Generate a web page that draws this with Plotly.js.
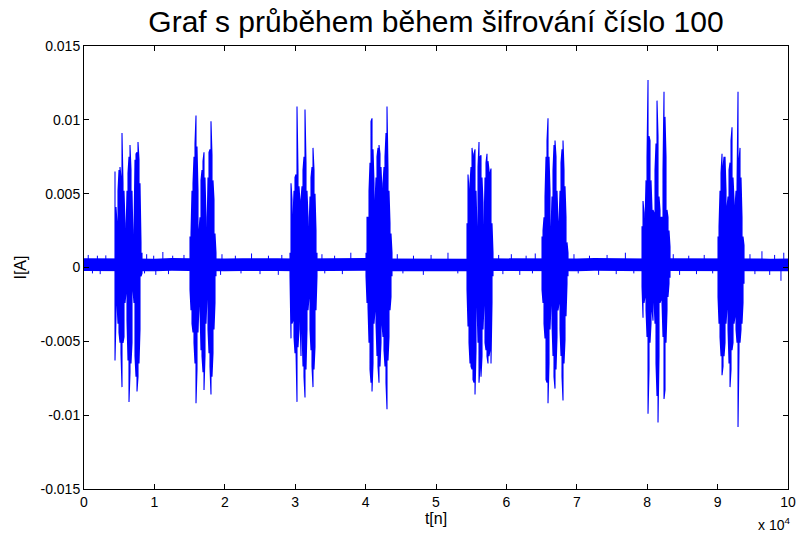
<!DOCTYPE html>
<html>
<head>
<meta charset="utf-8">
<script src="https://cdn.plot.ly/plotly-3.0.1.min.js"></script>
<style>
  html, body { margin: 0; padding: 0; background: #ffffff; }
  #chart { width: 798px; height: 538px; }
</style>
</head>
<body>
<div id="chart"></div>
<script>
// Current trace of one encryption run (100 000 samples), stored as
// min/max envelopes per display column for each active burst.
const sampleCount = 100000;
const binWidth = 142; // samples per envelope column

const burstStart = [4404, 15057, 29262, 40058, 54405, 65059, 79264, 90060];

const burst1Max = [0.0065, 0.0041, 0.0030, 0.0052, 0.0066, 0.0068, 0.0061, 0.0091, 0.0057, 0.0052, 0.0030, 0.0023, 0.0052, 0.0064, 0.0075, 0.0083, 0.0066, 0.0052, 0.0019, 0.0025, 0.0073, 0.0077, 0.0078, 0.0085, 0.0073, 0.0057, 0.0017, 0.0010];
const burst1Min = [-0.0063, -0.0033, -0.0024, -0.0038, -0.0044, -0.0051, -0.0058, -0.0081, -0.0051, -0.0047, -0.0024, -0.0017, -0.0036, -0.0063, -0.0091, -0.0071, -0.0065, -0.0051, -0.0015, -0.0024, -0.0060, -0.0074, -0.0084, -0.0074, -0.0065, -0.0042, -0.0006, -0.0004];

const burst2Max = [0.0021, 0.0023, 0.0052, 0.0057, 0.0075, 0.0084, 0.0103, 0.0082, 0.0052, 0.0025, 0.0034, 0.0059, 0.0066, 0.0072, 0.0078, 0.0061, 0.0034, 0.0023, 0.0061, 0.0078, 0.0080, 0.0099, 0.0076, 0.0059, 0.0046, 0.0023, 0.0010];
const burst2Min = [-0.0015, -0.0029, -0.0038, -0.0044, -0.0051, -0.0065, -0.0092, -0.0069, -0.0044, -0.0024, -0.0029, -0.0056, -0.0060, -0.0071, -0.0083, -0.0060, -0.0038, -0.0020, -0.0042, -0.0058, -0.0067, -0.0086, -0.0074, -0.0058, -0.0042, -0.0024, -0.0006];

const burst3Max = [0.0010, 0.0057, 0.0046, 0.0034, 0.0052, 0.0061, 0.0063, 0.0109, 0.0065, 0.0055, 0.0044, 0.0046, 0.0055, 0.0066, 0.0075, 0.0107, 0.0071, 0.0052, 0.0034, 0.0025, 0.0048, 0.0061, 0.0068, 0.0081, 0.0066, 0.0050, 0.0025, 0.0010];
const burst3Min = [-0.0006, -0.0048, -0.0038, -0.0036, -0.0047, -0.0058, -0.0056, -0.0091, -0.0054, -0.0042, -0.0034, -0.0060, -0.0042, -0.0067, -0.0074, -0.0088, -0.0069, -0.0042, -0.0029, -0.0020, -0.0042, -0.0056, -0.0067, -0.0081, -0.0069, -0.0054, -0.0029, -0.0006];

const burst4Max = [0.0010, 0.0034, 0.0034, 0.0052, 0.0071, 0.0099, 0.0101, 0.0080, 0.0057, 0.0044, 0.0061, 0.0075, 0.0081, 0.0083, 0.0077, 0.0068, 0.0052, 0.0057, 0.0068, 0.0075, 0.0091, 0.0109, 0.0066, 0.0052, 0.0030, 0.0023, 0.0010];
const burst4Min = [-0.0006, -0.0024, -0.0027, -0.0051, -0.0069, -0.0078, -0.0084, -0.0065, -0.0038, -0.0029, -0.0038, -0.0060, -0.0067, -0.0078, -0.0067, -0.0051, -0.0038, -0.0047, -0.0056, -0.0067, -0.0078, -0.0096, -0.0063, -0.0047, -0.0029, -0.0020, -0.0006];

const burst5Max = [0.0030, 0.0063, 0.0052, 0.0057, 0.0068, 0.0081, 0.0075, 0.0077, 0.0080, 0.0052, 0.0025, 0.0068, 0.0085, 0.0075, 0.0076, 0.0061, 0.0044, 0.0025, 0.0061, 0.0071, 0.0077, 0.0072, 0.0066, 0.0064, 0.0067, 0.0030, 0.0010];
const burst5Min = [-0.0015, -0.0040, -0.0051, -0.0065, -0.0067, -0.0069, -0.0076, -0.0078, -0.0086, -0.0056, -0.0024, -0.0051, -0.0078, -0.0067, -0.0074, -0.0060, -0.0042, -0.0024, -0.0051, -0.0056, -0.0060, -0.0065, -0.0060, -0.0056, -0.0065, -0.0024, -0.0006];

const burst6Max = [0.0021, 0.0025, 0.0034, 0.0048, 0.0075, 0.0086, 0.0101, 0.0075, 0.0052, 0.0025, 0.0048, 0.0066, 0.0083, 0.0086, 0.0075, 0.0052, 0.0030, 0.0030, 0.0052, 0.0071, 0.0080, 0.0086, 0.0066, 0.0055, 0.0034, 0.0017, 0.0010];
const burst6Min = [-0.0015, -0.0024, -0.0038, -0.0048, -0.0076, -0.0078, -0.0092, -0.0065, -0.0042, -0.0024, -0.0038, -0.0060, -0.0074, -0.0082, -0.0069, -0.0047, -0.0029, -0.0024, -0.0042, -0.0060, -0.0074, -0.0090, -0.0065, -0.0049, -0.0033, -0.0011, -0.0006];

const burst7Max = [0.0028, 0.0045, 0.0037, 0.0030, 0.0059, 0.0075, 0.0127, 0.0089, 0.0086, 0.0059, 0.0039, 0.0039, 0.0037, 0.0066, 0.0084, 0.0113, 0.0089, 0.0048, 0.0039, 0.0034, 0.0034, 0.0066, 0.0119, 0.0102, 0.0075, 0.0039, 0.0034, 0.0025, 0.0014];
const burst7Min = [-0.0013, -0.0034, -0.0024, -0.0020, -0.0029, -0.0047, -0.0099, -0.0069, -0.0051, -0.0038, -0.0029, -0.0036, -0.0022, -0.0038, -0.0065, -0.0087, -0.0105, -0.0060, -0.0024, -0.0022, -0.0024, -0.0047, -0.0089, -0.0083, -0.0051, -0.0029, -0.0020, -0.0011, -0.0007];

const burst8Max = [0.0021, 0.0028, 0.0052, 0.0064, 0.0077, 0.0068, 0.0075, 0.0075, 0.0052, 0.0041, 0.0048, 0.0066, 0.0071, 0.0086, 0.0095, 0.0061, 0.0046, 0.0041, 0.0052, 0.0055, 0.0119, 0.0073, 0.0081, 0.0061, 0.0034, 0.0021, 0.0015];
const burst8Min = [-0.0020, -0.0038, -0.0047, -0.0060, -0.0073, -0.0067, -0.0060, -0.0051, -0.0038, -0.0027, -0.0042, -0.0065, -0.0081, -0.0069, -0.0056, -0.0051, -0.0038, -0.0033, -0.0042, -0.0051, -0.0108, -0.0056, -0.0051, -0.0042, -0.0038, -0.0024, -0.0011];

// Idle noise band between bursts, one value per 2500 samples
const baseX = [0, 2500, 5000, 7500, 10000, 12500, 15000, 17500, 20000, 22500, 25000, 27500, 30000, 32500, 35000, 37500, 40000, 42500, 45000, 47500, 50000, 52500, 55000, 57500, 60000, 62500, 65000, 67500, 70000, 72500, 75000, 77500, 80000, 82500, 85000, 87500, 90000, 92500, 95000, 97500, 100000];
const baseTop = [0.00062, 0.00060, 0.00063, 0.00061, 0.00060, 0.00064, 0.00062, 0.00060, 0.00061, 0.00063, 0.00060, 0.00062, 0.00061, 0.00063, 0.00060, 0.00062, 0.00064, 0.00061, 0.00060, 0.00062, 0.00063, 0.00061, 0.00060, 0.00062, 0.00061, 0.00063, 0.00060, 0.00062, 0.00061, 0.00064, 0.00062, 0.00060, 0.00061, 0.00063, 0.00062, 0.00060, 0.00061, 0.00063, 0.00062, 0.00060, 0.00061];
const baseBottom = [-0.00024, -0.00026, -0.00023, -0.00025, -0.00026, -0.00022, -0.00024, -0.00026, -0.00025, -0.00023, -0.00026, -0.00024, -0.00025, -0.00023, -0.00026, -0.00024, -0.00022, -0.00025, -0.00026, -0.00024, -0.00023, -0.00025, -0.00026, -0.00024, -0.00025, -0.00023, -0.00026, -0.00024, -0.00025, -0.00022, -0.00024, -0.00026, -0.00025, -0.00023, -0.00024, -0.00026, -0.00025, -0.00023, -0.00024, -0.00026, -0.00025];

// Isolated noise spikes in the idle band: sample index and peak value
const spikeAt = [600, 1200, 1900, 2300, 3100, 8600, 8900, 9900, 10200, 11200, 12000, 12600, 14200, 19400, 19600, 21500, 22300, 23800, 25000, 26200, 27600, 28100, 33800, 34200, 35600, 36700, 37900, 44500, 45300, 46800, 48200, 49300, 51700, 53100, 58900, 59500, 60700, 61900, 62800, 63700, 64100, 69600, 70200, 71800, 73100, 74300, 75600, 76900, 78100, 83700, 84600, 85900, 87000, 88100, 89300, 94600, 95300, 96300, 97400, 98100, 99000, 99400];
const spikeVal = [0.00085, -0.0004, 0.0008, -0.00045, 0.00082, -0.0004, 0.0009, 0.0008, -0.0005, 0.00105, -0.00045, 0.0008, 0.00085, -0.0005, 0.0009, 0.0008, -0.0004, 0.00095, -0.00045, 0.0008, -0.0005, 0.00085, 0.0009, -0.0004, 0.0008, -0.00045, 0.001, 0.0009, -0.0004, 0.0008, -0.0005, 0.00085, 0.001, -0.0004, 0.00085, -0.00045, 0.0009, -0.0005, 0.0008, -0.0004, 0.00095, 0.0009, -0.0004, 0.0008, -0.0005, 0.00085, -0.00045, 0.001, -0.0004, 0.0009, -0.0005, 0.0008, -0.00045, 0.00085, -0.0004, 0.0009, -0.00045, 0.0011, -0.0005, 0.00085, -0.0009, 0.001];

const xTickVals = [0, 10000, 20000, 30000, 40000, 50000, 60000, 70000, 80000, 90000, 100000];
const xTickText = ['0', '1', '2', '3', '4', '5', '6', '7', '8', '9', '10'];
const yTickVals = [-0.015, -0.01, -0.005, 0, 0.005, 0.01, 0.015];
const yTickText = ['-0.015', '-0.01', '-0.005', '0', '0.005', '0.01', '0.015'];

const blue = '#0000ff';
const font = 'Liberation Sans, Arial, Helvetica, sans-serif';

// A min/max envelope drawn as a serpentine line: one vertical stroke per column
function envelopeTrace(start, maxVals, minVals) {
  const x = [];
  const y = [];
  maxVals.forEach((hi, i) => {
    const xs = start + i * binWidth;
    const lo = minVals[i];
    x.push(xs, xs);
    if (i % 2 === 0) { y.push(hi, lo); } else { y.push(lo, hi); }
  });
  return { type: 'scatter', mode: 'lines', x, y, line: { color: blue, width: 1.1 },
           hoverinfo: 'skip', showlegend: false };
}

const bursts = [
  [burst1Max, burst1Min], [burst2Max, burst2Min], [burst3Max, burst3Min], [burst4Max, burst4Min],
  [burst5Max, burst5Min], [burst6Max, burst6Min], [burst7Max, burst7Min], [burst8Max, burst8Min]
];

const spikeX = [];
const spikeY = [];
spikeAt.forEach((s, i) => { spikeX.push(s, s, null); spikeY.push(0, spikeVal[i], null); });

const traces = [
  { type: 'scatter', mode: 'lines', x: baseX, y: baseTop, line: { color: blue, width: 0 },
    hoverinfo: 'skip', showlegend: false },
  { type: 'scatter', mode: 'lines', x: baseX, y: baseBottom, line: { color: blue, width: 0 },
    fill: 'tonexty', fillcolor: blue, hoverinfo: 'skip', showlegend: false },
  { type: 'scatter', mode: 'lines', x: spikeX, y: spikeY, connectgaps: false,
    line: { color: blue, width: 1 }, hoverinfo: 'skip', showlegend: false }
].concat(bursts.map((b, k) => envelopeTrace(burstStart[k], b[0], b[1])));

const axisCommon = {
  ticks: 'inside', ticklen: 5, tickwidth: 1, tickcolor: '#000',
  showline: true, linecolor: '#000', linewidth: 1, mirror: 'ticks',
  showgrid: false, zeroline: false,
  tickfont: { family: font, size: 14, color: '#000' }
};

const layout = {
  width: 798, height: 538,
  margin: { l: 84, r: 10, t: 46, b: 49 },
  paper_bgcolor: '#ffffff', plot_bgcolor: '#ffffff',
  showlegend: false,
  title: {
    text: 'Graf s průběhem během šifrování číslo 100',
    font: { family: font, size: 30, color: '#000' },
    xref: 'paper', x: 0.5, xanchor: 'center',
    yref: 'container', y: 1 - 21 / 538, yanchor: 'middle'
  },
  xaxis: Object.assign({}, axisCommon, {
    range: [0, sampleCount], tickmode: 'array', tickvals: xTickVals, ticktext: xTickText,
    title: { text: 't[n]', font: { family: font, size: 16, color: '#000' }, standoff: 4 }
  }),
  yaxis: Object.assign({}, axisCommon, {
    range: [-0.015, 0.015], tickmode: 'array', tickvals: yTickVals, ticktext: yTickText,
    title: { text: 'I[A]', font: { family: font, size: 16, color: '#000' }, standoff: 9 }
  }),
  annotations: [{
    text: 'x 10<sup>4</sup>', xref: 'paper', yref: 'paper', x: 1, y: 0,
    xanchor: 'right', yanchor: 'top', xshift: 4, yshift: -24, showarrow: false,
    font: { family: font, size: 14, color: '#000' }
  }]
};

Plotly.newPlot('chart', traces, layout, { displayModeBar: false, staticPlot: true });
</script>
</body>
</html>
